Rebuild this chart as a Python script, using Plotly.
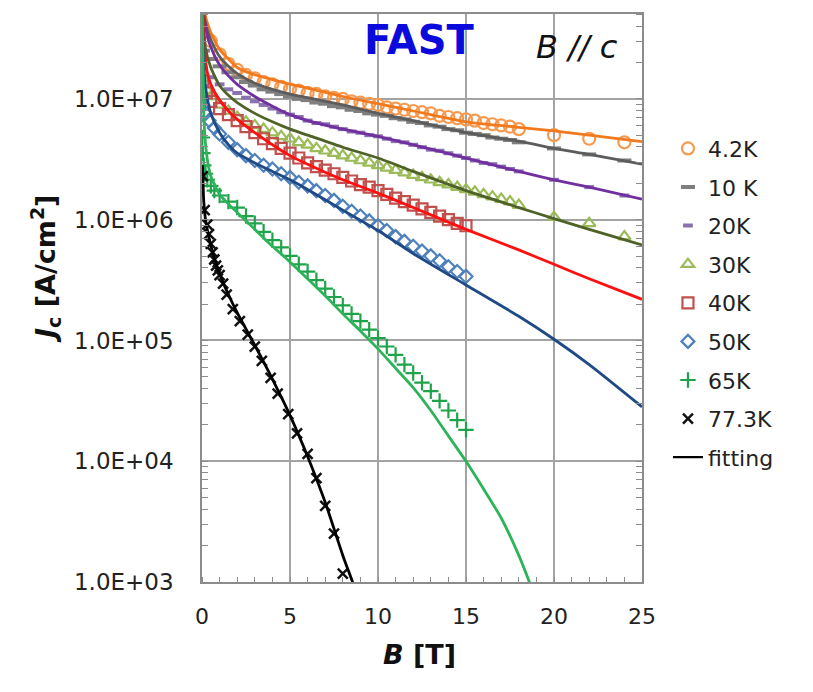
import plotly.graph_objects as go

# ---------------- measured data (B in tesla, Jc in A/cm^2) ----------------
B_42 = [0.5,1,1.5,2,2.5,3,3.5,4,4.5,5,5.5,6,6.5,7,7.5,8,8.5,9,9.5,10,10.5,11,11.5,12,12.5,13,13.5,14,14.5,15,15.5,16,16.5,17,17.5,18,20,22,24]
J_42 = [3.02e7,2.34e7,1.95e7,1.74e7,1.58e7,1.48e7,1.38e7,1.32e7,1.26e7,1.20e7,1.17e7,1.12e7,1.10e7,1.05e7,1.02e7,1.0e7,9.55e6,9.33e6,9.12e6,8.91e6,8.51e6,8.32e6,8.13e6,7.94e6,7.76e6,7.59e6,7.24e6,7.08e6,6.92e6,6.76e6,6.61e6,6.31e6,6.17e6,6.03e6,5.89e6,5.62e6,5.01e6,4.68e6,4.37e6]

B_10 = [0.05,0.5,1,1.5,2,2.5,3,3.5,4,4.5,5,5.5,6,6.5,7,7.5,8,8.5,9,9.5,10,10.5,11,11.5,12,12.5,13,13.5,14,14.5,15,15.5,16,16.5,17,17.5,18,20,22,24]
J_10 = [2.51e7,2.14e7,1.86e7,1.66e7,1.51e7,1.38e7,1.29e7,1.20e7,1.148e7,1.096e7,1.047e7,1.0e7,9.77e6,9.33e6,9.12e6,8.71e6,8.51e6,8.13e6,7.94e6,7.59e6,7.41e6,7.24e6,6.92e6,6.76e6,6.46e6,6.31e6,6.03e6,5.89e6,5.62e6,5.50e6,5.25e6,5.13e6,5.01e6,4.79e6,4.68e6,4.57e6,4.37e6,3.89e6,3.47e6,3.09e6]

B_20 = [0.05,0.5,1,1.5,2,2.5,3,3.5,4,4.5,5,5.5,6,6.5,7,7.5,8,8.5,9,9.5,10,10.5,11,11.5,12,12.5,13,13.5,14,14.5,15,15.5,16,16.5,17,17.5,18,20,22,24]
J_20 = [1.78e7,1.51e7,1.32e7,1.20e7,1.12e7,1.023e7,9.55e6,8.91e6,8.32e6,7.76e6,7.41e6,7.08e6,6.61e6,6.31e6,6.17e6,5.89e6,5.62e6,5.37e6,5.25e6,5.01e6,4.90e6,4.68e6,4.47e6,4.37e6,4.17e6,3.98e6,3.80e6,3.72e6,3.55e6,3.39e6,3.24e6,3.09e6,2.95e6,2.88e6,2.75e6,2.63e6,2.51e6,2.14e6,1.86e6,1.585e6]

B_30 = [0.05,0.3,0.5,1,1.5,2,2.5,3,3.5,4,4.5,5,5.5,6,6.5,7,7.5,8,8.5,9,9.5,10,10.5,11,11.5,12,12.5,13,13.5,14,14.5,15,15.5,16,16.5,17,17.5,18,20,22,24]
J_30 = [1.48e7,1.175e7,1.047e7,8.91e6,7.94e6,7.08e6,6.46e6,6.03e6,5.62e6,5.25e6,4.90e6,4.68e6,4.37e6,4.17e6,3.89e6,3.72e6,3.55e6,3.39e6,3.24e6,3.09e6,2.95e6,2.82e6,2.69e6,2.57e6,2.45e6,2.34e6,2.24e6,2.14e6,2.04e6,1.95e6,1.86e6,1.78e6,1.70e6,1.62e6,1.55e6,1.48e6,1.41e6,1.32e6,1.047e6,9.33e5,7.24e5]

B_40 = [0.05,0.25,0.5,1,1.5,2,2.5,3,3.5,4,4.5,5,5.5,6,6.5,7,7.5,8,8.5,9,9.5,10,10.5,11,11.5,12,12.5,13,13.5,14,14.5,15]
J_40 = [1.41e7,1.12e7,9.55e6,8.32e6,7.41e6,6.61e6,5.89e6,5.25e6,4.68e6,4.27e6,3.89e6,3.55e6,3.24e6,2.95e6,2.75e6,2.57e6,2.40e6,2.24e6,2.09e6,1.95e6,1.86e6,1.74e6,1.62e6,1.51e6,1.41e6,1.32e6,1.23e6,1.148e6,1.072e6,1.0e6,9.33e5,8.91e5]

B_50 = [0.05,0.2,0.4,0.7,1,1.5,2,2.5,3,3.5,4,4.5,5,5.5,6,6.5,7,7.5,8,8.5,9,9.5,10,10.5,11,11.5,12,12.5,13,13.5,14,14.5,15]
J_50 = [8.91e6,7.59e6,6.61e6,5.75e6,5.13e6,4.37e6,3.80e6,3.39e6,3.09e6,2.82e6,2.63e6,2.40e6,2.24e6,2.04e6,1.905e6,1.74e6,1.585e6,1.445e6,1.29e6,1.175e6,1.072e6,9.77e5,8.91e5,8.13e5,7.24e5,6.61e5,6.03e5,5.50e5,5.01e5,4.57e5,4.07e5,3.72e5,3.39e5]

B_65 = [0.02,0.05,0.1,0.2,0.3,0.5,0.7,1,1.5,2,2.5,3,3.5,4,4.5,5,5.5,6,6.5,7,7.5,8,8.5,9,9.5,10,10.5,11,11.5,12,12.5,13,13.5,14,14.5,15]
J_65 = [4.79e6,3.55e6,2.82e6,2.40e6,2.14e6,1.905e6,1.74e6,1.585e6,1.41e6,1.26e6,1.072e6,9.33e5,7.94e5,6.76e5,5.89e5,5.01e5,4.27e5,3.72e5,3.16e5,2.69e5,2.29e5,1.95e5,1.66e5,1.445e5,1.23e5,1.047e5,8.91e4,7.59e4,6.31e4,5.37e4,4.47e4,3.80e4,3.16e4,2.63e4,2.19e4,1.82e4]

B_77 = [0.05,0.15,0.3,0.4,0.5,0.6,0.7,0.8,0.9,1.0,1.2,1.4,1.75,2.15,2.6,3.0,3.4,3.9,4.3,4.9,5.4,6.0,6.5,7.0,7.5,8.0]
J_77 = [2.29e6,1.20e6,9.12e5,7.59e5,6.31e5,5.37e5,4.68e5,4.17e5,3.80e5,3.47e5,2.95e5,2.40e5,1.82e5,1.445e5,1.12e5,8.91e4,6.76e4,4.90e4,3.63e4,2.45e4,1.70e4,1.148e4,7.24e3,4.27e3,2.51e3,1.175e3]

# ---------------- fitting curves ----------------
FB_42 = [0.17,0.3,0.5,1,1.5,2,3,4,5,6,8,10,12,15,18,20,22,25]
FJ_42 = [5.01e7,4.27e7,3.55e7,2.57e7,2.14e7,1.82e7,1.585e7,1.445e7,1.318e7,1.23e7,1.047e7,9.12e6,7.94e6,6.46e6,5.82e6,5.43e6,5.01e6,4.42e6]

FB_10 = [0.1,0.3,0.5,1,1.5,2,3,4,5,6,8,10,12,15,18,20,22,25]
FJ_10 = [5.01e7,3.72e7,3.09e7,2.24e7,1.86e7,1.62e7,1.35e7,1.20e7,1.096e7,1.023e7,8.91e6,7.59e6,6.61e6,5.25e6,4.47e6,3.89e6,3.47e6,2.88e6]

FB_20 = [0.1,0.3,0.5,1,1.5,2,3,4,5,6,8,10,12,15,18,20,22,25]
FJ_20 = [5.01e7,3.31e7,2.69e7,1.905e7,1.55e7,1.32e7,1.047e7,8.71e6,7.41e6,6.61e6,5.62e6,4.90e6,4.17e6,3.24e6,2.51e6,2.14e6,1.86e6,1.48e6]

FB_30 = [0.05,0.2,0.5,1,1.5,2,3,4,5,6,8,10,12,15,18,20,22,25]
FJ_30 = [5.01e7,2.63e7,1.82e7,1.29e7,1.07e7,9.33e6,7.59e6,6.46e6,5.62e6,5.01e6,3.98e6,3.24e6,2.51e6,1.74e6,1.26e6,1.02e6,8.32e5,6.17e5]

FB_40 = [0.05,0.15,0.3,0.5,1,1.5,2,3,4,5,6,8,10,12,15,18,20,22,25]
FJ_40 = [5.01e7,2.51e7,1.66e7,1.32e7,9.77e6,7.94e6,6.76e6,5.25e6,4.17e6,3.39e6,2.88e6,2.14e6,1.66e6,1.26e6,8.32e5,5.62e5,4.27e5,3.24e5,2.19e5]

FB_50 = [0.03,0.1,0.2,0.5,1,1.5,2,3,4,5,6,8,10,12,15,18,20,22,25]
FJ_50 = [5.01e7,2.0e7,1.26e7,7.59e6,5.25e6,4.17e6,3.55e6,2.95e6,2.51e6,2.14e6,1.78e6,1.20e6,8.13e5,5.25e5,2.88e5,1.585e5,1.023e5,6.31e4,2.82e4]

FB_65 = [0.02,0.08,0.15,0.3,0.5,1,1.5,2,3,4,5,6,7,8,9,10,11,12,13,14,15,16,17,18,18.6,18.9]
FJ_65 = [5.01e7,1.0e7,5.25e6,3.16e6,2.29e6,1.62e6,1.35e6,1.148e6,8.32e5,6.03e5,4.47e5,3.24e5,2.34e5,1.66e5,1.20e5,8.51e4,5.89e4,4.07e4,2.63e4,1.62e4,1.0e4,5.89e3,3.39e3,1.66e3,1.0e3,7.59e2]

FB_77 = [0.03,0.1,0.2,0.4,0.7,1,1.5,2,3,4,5,6,7,8,8.6,8.8]
FJ_77 = [2.82e6,1.41e6,1.0e6,7.08e5,4.79e5,3.55e5,2.40e5,1.70e5,9.12e4,4.79e4,2.40e4,1.096e4,4.57e3,1.66e3,9.55e2,7.59e2]

Y_TICKS = [1e3, 1e4, 1e5, 1e6, 1e7]
Y_TICKTEXT = ["1.0E+03", "1.0E+04", "1.0E+05", "1.0E+06", "1.0E+07"]
X_TICKS = [0, 5, 10, 15, 20, 25]

series = [
    # name, B, J, fitB, fitJ, symbol, size, marker color, line width, fit color
    ("4.2K", B_42, J_42, FB_42, FJ_42, "circle-open", 12, "#f59a50", 2.2, "#f27a1e"),
    ("10 K", B_10, J_10, FB_10, FJ_10, "line-ew", 10, "#7f7f7f", 4, "#5c5c5c"),
    ("20K", B_20, J_20, FB_20, FJ_20, "line-ew", 7, "#8a72b0", 4, "#7030a0"),
    ("30K", B_30, J_30, FB_30, FJ_30, "triangle-up-open", 11, "#9bbb59", 2.2, "#4f6228"),
    ("40K", B_40, J_40, FB_40, FJ_40, "square-open", 11, "#c0504d", 2.2, "#ff1010"),
    ("50K", B_50, J_50, FB_50, FJ_50, "diamond-open", 10, "#4f81bd", 2.2, "#1f4a85"),
    ("65K", B_65, J_65, FB_65, FJ_65, "cross-thin-open", 11, "#1fa34a", 2.2, "#2db35a"),
    ("77.3K", B_77, J_77, FB_77, FJ_77, "x-thin-open", 10, "#111111", 2.5, "#000000"),
]

fig = go.Figure()

# data markers
for i, (name, b, j, fb, fj, sym, sz, mc, lw, fc) in enumerate(series):
    fig.add_trace(go.Scatter(
        x=b, y=j, mode="markers", name=name,
        marker=dict(symbol=sym, size=sz, color=mc, line=dict(color=mc, width=lw)),
        legendgroup=f"g{i}", legendrank=i + 1,
    ))

# fitting lines
for i, (name, b, j, fb, fj, sym, sz, mc, lw, fc) in enumerate(series):
    fig.add_trace(go.Scatter(
        x=fb, y=fj, mode="lines", showlegend=False,
        line=dict(color=fc, width=2.8, shape="spline", smoothing=0.6),
        hoverinfo="skip",
    ))

# legend-only entry for the fitting curves
fig.add_trace(go.Scatter(
    x=[None], y=[None], mode="lines", name="fitting",
    line=dict(color="#000000", width=2.2), legendgroup="gfit", legendrank=20,
))

grid_col = "#a3a3a3"
fig.update_layout(
    width=813, height=692,
    margin=dict(l=202, r=171, t=12, b=110),
    paper_bgcolor="white", plot_bgcolor="white",
    font=dict(family="DejaVu Sans", color="#222222"),
    showlegend=True,
    legend=dict(
        x=1.059, xanchor="left", y=0.80, yanchor="top",
        font=dict(size=22, family="DejaVu Sans", color="#222222"),
        tracegroupgap=7, itemwidth=30, bgcolor="rgba(0,0,0,0)",
    ),
    xaxis=dict(
        range=[0, 25], tickvals=X_TICKS, showgrid=True, gridcolor=grid_col, gridwidth=1.5,
        showline=True, linecolor="#8c8c8c", linewidth=1.5, mirror=True,
        ticks="", tickfont=dict(size=22, family="DejaVu Sans", color="#222222"),
        ticklabelstandoff=14, zeroline=False,
        minor=dict(ticks="inside", dtick=1, ticklen=5, tickcolor="#8c8c8c", tickwidth=1, showgrid=False),
    ),
    yaxis=dict(
        type="log", range=[3, 7.703], tickvals=Y_TICKS, ticktext=Y_TICKTEXT,
        showgrid=True, gridcolor=grid_col, gridwidth=1.5,
        showline=True, linecolor="#8c8c8c", linewidth=1.5, mirror="allticks",
        ticks="", tickfont=dict(size=23, family="DejaVu Sans", color="#222222"),
        ticklabelstandoff=22, zeroline=False,
        minor=dict(ticks="inside", dtick="D1", ticklen=6, tickcolor="#8c8c8c", tickwidth=1, showgrid=False),
    ),
    annotations=[
        dict(text="<b>FAST</b>", x=0.495, y=0.954, xref="paper", yref="paper",
             xanchor="center", yanchor="middle",
             showarrow=False, font=dict(size=40, color="#0a0adc", family="DejaVu Sans")),
        dict(text="<i>B // c</i>", x=0.852, y=0.942, xref="paper", yref="paper",
             xanchor="center", yanchor="middle",
             showarrow=False, font=dict(size=32, color="#111111", family="DejaVu Sans")),
        dict(text="<b><i>J</i><sub>c</sub> [A/cm<sup>2</sup>]</b>", x=-0.357, y=0.551,
             xref="paper", yref="paper", textangle=-90, showarrow=False,
             xanchor="center", yanchor="middle",
             font=dict(size=27, color="#111111", family="DejaVu Sans")),
        dict(text="<b><i>B</i> [T]</b>", x=0.495, y=-0.128, xref="paper", yref="paper",
             xanchor="center", yanchor="middle",
             showarrow=False, font=dict(size=27, color="#111111", family="DejaVu Sans")),
    ],
)

fig.write_html("out.html")
